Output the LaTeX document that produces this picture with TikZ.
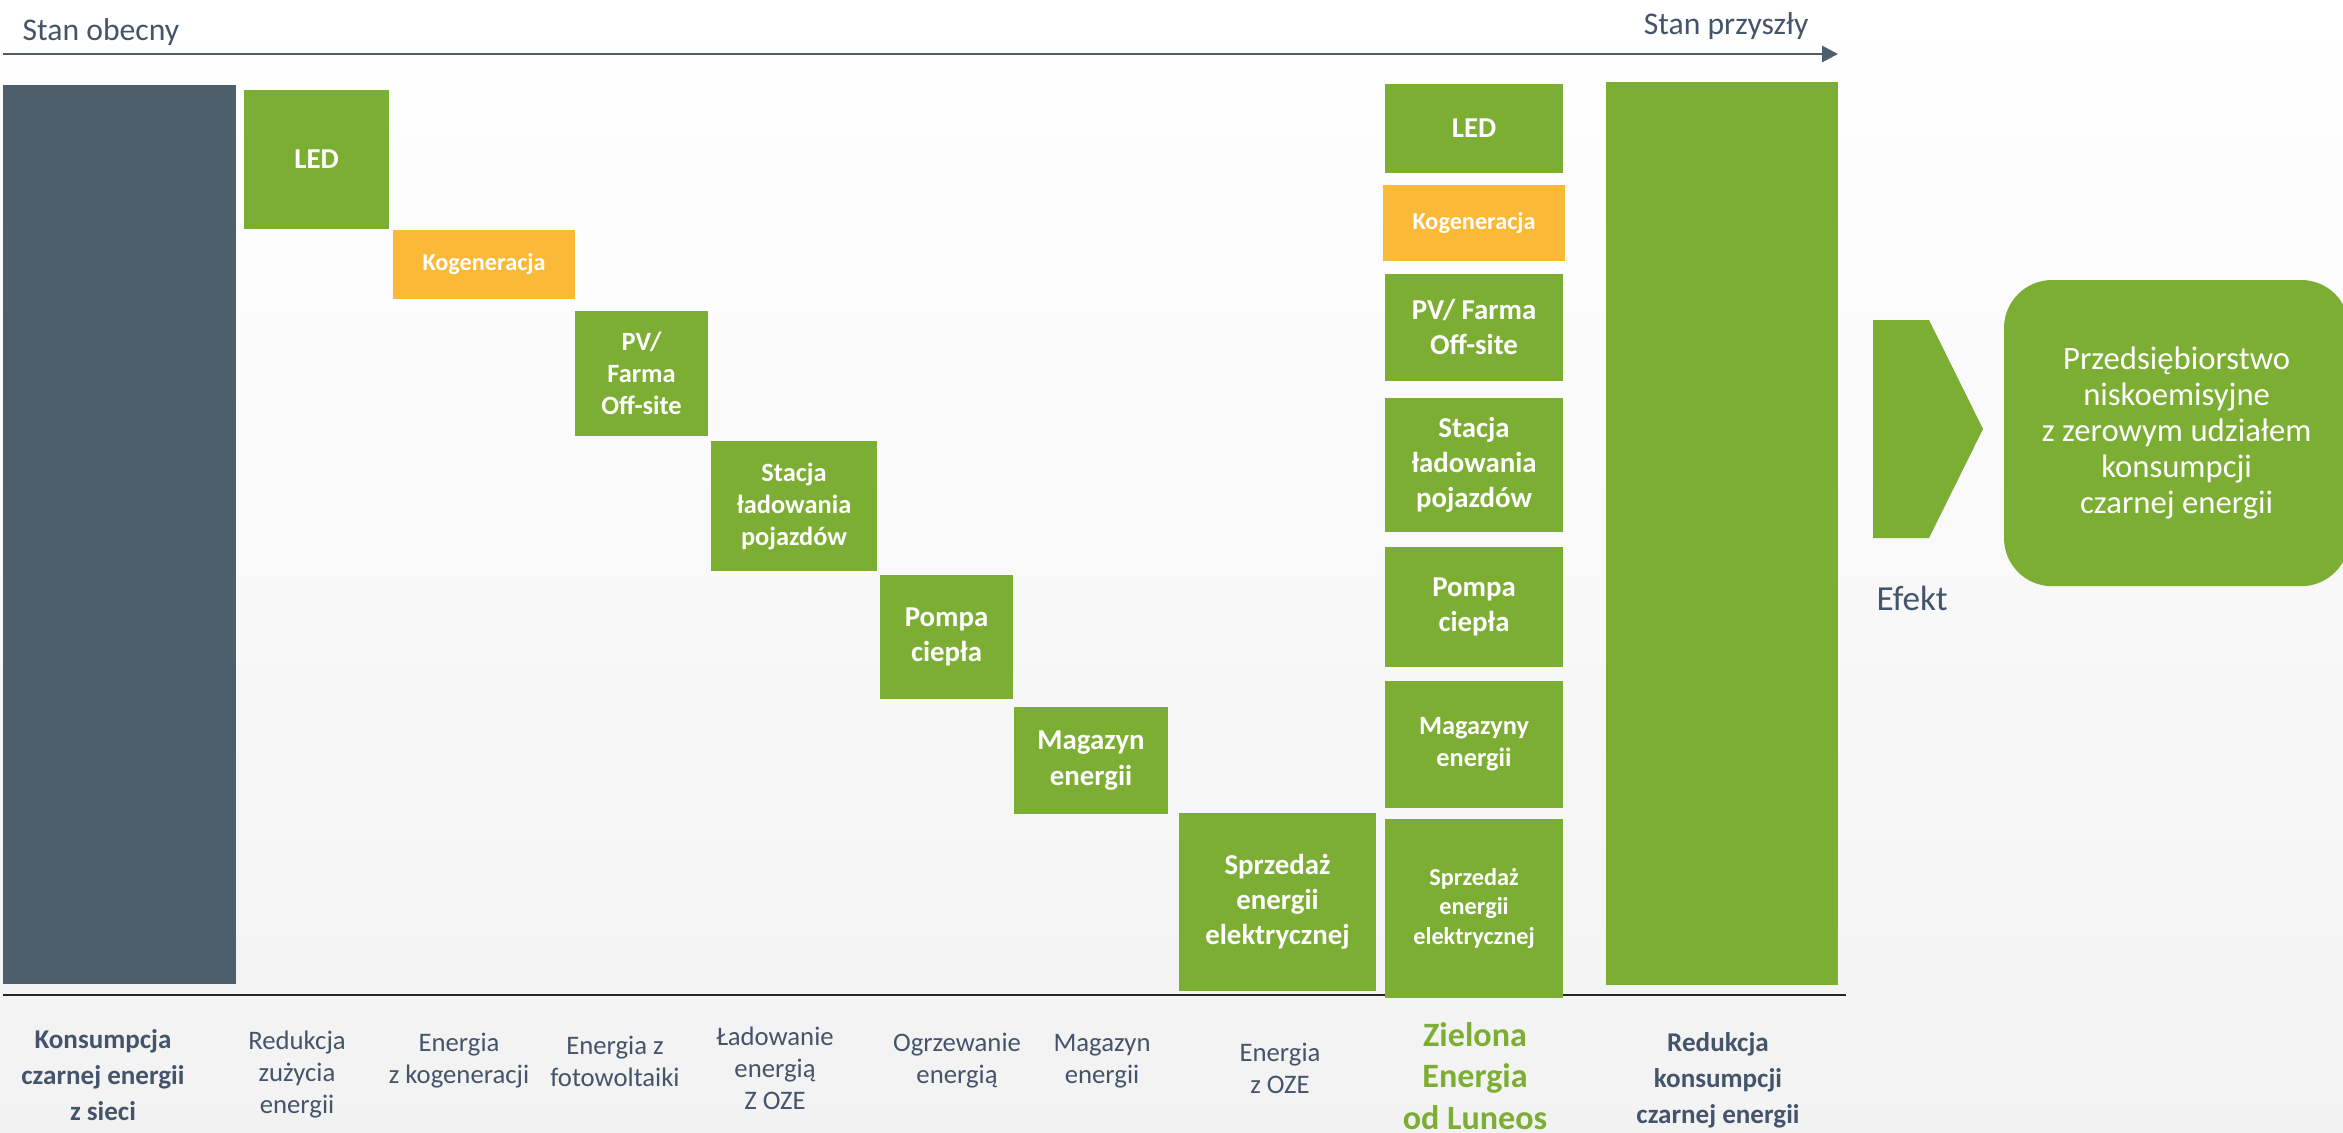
\documentclass[tikz,border=0pt]{standalone}
\usepackage{fontspec}
\setmainfont{Carlito}
\usetikzlibrary{positioning}
\usetikzlibrary{arrows.meta}
\definecolor{lgreen}{RGB}{124,174,52}
\definecolor{korange}{RGB}{250,185,55}
\definecolor{slate}{RGB}{79,94,107}
\definecolor{txtgray}{RGB}{68,84,106}

\begin{document}
\begin{tikzpicture}[x=0.01cm, y=-0.01cm,
                    greenbox/.style={rectangle, fill=lgreen, text=white, align=center, inner sep=0pt, outer sep=0pt},
                    orangebox/.style={rectangle, fill=korange, text=white, align=center, inner sep=0pt, outer sep=0pt},
                    darkbox/.style={rectangle, fill=slate, inner sep=0pt, outer sep=0pt},
                    fbig/.style={font=\fontsize{8.2}{10}\selectfont\bfseries},
                    fmid/.style={font=\fontsize{7.5}{9.1}\selectfont\bfseries},
                    fsmall/.style={font=\fontsize{6.9}{8.3}\selectfont\bfseries},
                    caption/.style={text=txtgray, align=center, font=\fontsize{7.6}{9.1}\selectfont},
                    captionbold/.style={text=txtgray, align=center, font=\fontsize{7.7}{10.3}\selectfont\bfseries},
                    timetext/.style={text=txtgray, inner sep=0pt, font=\fontsize{9}{11}\selectfont},
                ]
                \useasboundingbox (0,0) rectangle (2343,1132);
                \shade[top color=white, bottom color=black!5] (0,0) rectangle (2343,1132);

                %Timeline
                \coordinate (now)    at (3,54);
                \coordinate (future) at (1838,54);
                \node[timetext, anchor=base west] (stanobecny)   at (22,40)   {Stan obecny};
                \node[timetext, anchor=base east] (stanprzyszly) at (1809,34) {Stan przyszły};
                \draw[slate, line width=0.8pt, -{Triangle[length=0.16cm, width=0.16cm]}] (now) -- (future);

                %Base line
                \coordinate (axisL) at (3,995);
                \coordinate (axisR) at (1846,995);
                \draw[black!85, line width=0.6pt] (axisL) -- (axisR);

                %Nodes: staircase
                \node[darkbox, anchor=north west, minimum width=2.33cm, minimum height=8.98cm] (konsumpcja) at (3,85) {};
                \node[greenbox, fbig, anchor=north west, minimum width=1.45cm, minimum height=1.39cm]   (led)      at (244,90)   {LED};
                \node[orangebox, fsmall, anchor=north west, minimum width=1.82cm, minimum height=0.69cm] (kogen)    at (393,230)  {Kogeneracja};
                \node[greenbox, fmid, anchor=north west, minimum width=1.33cm, minimum height=1.25cm]   (pv)       at (575,311)  {PV/\\Farma\\Off-site};
                \node[greenbox, fmid, anchor=north west, minimum width=1.66cm, minimum height=1.30cm]   (stacja)   at (711,441)  {Stacja\\ładowania\\pojazdów};
                \node[greenbox, fbig, anchor=north west, minimum width=1.33cm, minimum height=1.24cm]   (pompa)    at (880,575)  {Pompa\\ciepła};
                \node[greenbox, fbig, anchor=north west, minimum width=1.54cm, minimum height=1.07cm]   (magazyn)  at (1014,707) {Magazyn\\energii};
                \node[greenbox, fbig, anchor=north west, minimum width=1.97cm, minimum height=1.78cm]   (sprzedaz) at (1179,813) {Sprzedaż\\energii\\elektrycznej};

                %Nodes: stack
                \node[greenbox, fbig, anchor=north west, minimum width=1.78cm, minimum height=0.89cm] (ledR)      at (1385,84)              {LED};
                \node[orangebox, fsmall, minimum width=1.82cm, minimum height=0.76cm]                 (kogenR)    [below=0.115cm of ledR]     {Kogeneracja};
                \node[greenbox, fbig, minimum width=1.78cm, minimum height=1.07cm]                    (pvR)       [below=0.13cm of kogenR]    {PV/ Farma\\Off-site};
                \node[greenbox, fbig, minimum width=1.78cm, minimum height=1.34cm]                    (stacjaR)   [below=0.17cm of pvR]       {Stacja\\ładowania\\pojazdów};
                \node[greenbox, fbig, minimum width=1.78cm, minimum height=1.20cm]                    (pompaR)    [below=0.155cm of stacjaR]  {Pompa\\ciepła};
                \node[greenbox, fmid, minimum width=1.78cm, minimum height=1.27cm]                    (magazynR)  [below=0.135cm of pompaR]   {Magazyny\\energii};
                \node[greenbox, fsmall, minimum width=1.78cm, minimum height=1.78cm]                  (sprzedazR) [below=0.115cm of magazynR] {Sprzedaż\\energii\\elektrycznej};

                \node[greenbox, anchor=north west, minimum width=2.32cm, minimum height=9.02cm] (redukcja) at (1606,82) {};

                %Effect
                \fill[lgreen] (1873,320) -- (1929,320) -- (1983,429) -- (1929,538) -- (1873,538) -- cycle;
                \node[text=txtgray, inner sep=0pt, anchor=base west, font=\fontsize{10}{12}\selectfont] (efekt) at (1876,610) {Efekt};
                \node[greenbox, anchor=north west, rounded corners=0.48cm, minimum width=3.45cm, minimum height=3.06cm,
                      font=\fontsize{9.3}{10.2}\selectfont] (cel) at (2004,280)
                      {Przedsiębiorstwo\\niskoemisyjne\\z zerowym udziałem\\konsumpcji\\czarnej energii};

                %Captions
                \node[captionbold] (capkons)  at (103,1075)  {Konsumpcja\\czarnej energii\\z sieci};
                \node[caption]     (capled)   at (297,1074)  {Redukcja\\zużycia\\energii};
                \node[caption]     (capkog)   at (459,1061)  {Energia\\z kogeneracji};
                \node[caption]     (cappv)    at (615,1061)  {Energia z\\fotowoltaiki};
                \node[caption]     (capstac)  at (775,1068)  {Ładowanie\\energią\\Z OZE};
                \node[caption]     (cappomp)  at (957,1061)  {Ogrzewanie\\energią};
                \node[caption]     (capmag)   at (1102,1061) {Magazyn\\energii};
                \node[caption]     (capsprz)  at (1280,1068) {Energia\\z OZE};
                \node[text=lgreen, align=center, font=\fontsize{9.7}{11.7}\selectfont\bfseries] (capziel) at (1475,1076) {Zielona\\Energia\\od Luneos};
                \node[captionbold] (capred)   at (1718,1080) {Redukcja\\konsumpcji\\czarnej energii};
\end{tikzpicture}
\end{document}
